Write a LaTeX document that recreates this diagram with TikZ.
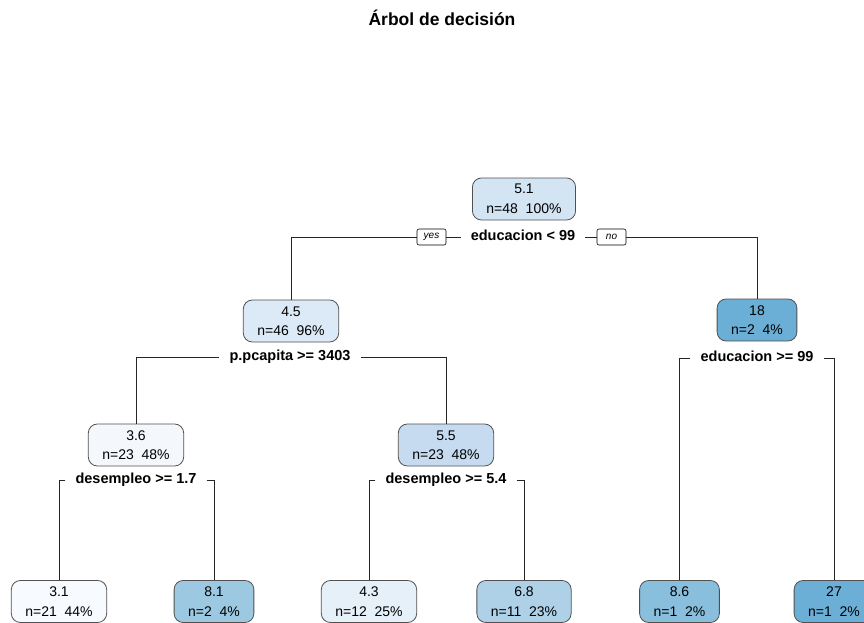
\documentclass[tikz,border=0pt]{standalone}
\usepackage{fontspec}
\setmainfont{Liberation Sans}
\usepackage{tikz}
\usetikzlibrary{positioning}

\definecolor{edgegray}{HTML}{505050}
\definecolor{c51}{HTML}{D3E4F3}
\definecolor{c45}{HTML}{DCE9F6}
\definecolor{c18}{HTML}{6BAED6}
\definecolor{c36}{HTML}{F4F8FD}
\definecolor{c55}{HTML}{C6DBEF}
\definecolor{c31}{HTML}{F7FBFF}
\definecolor{c81}{HTML}{9CC9E1}
\definecolor{c43}{HTML}{E6F0F9}
\definecolor{c68}{HTML}{AED1E7}
\definecolor{c86}{HTML}{89BEDC}
\definecolor{c27}{HTML}{6BAED6}

\begin{document}
\begin{tikzpicture}[
    x=1pt, y=-1pt,
    box/.style={draw=edgegray, line width=0.8pt, rounded corners=9pt, align=center,
        font=\fontsize{14}{19.5}\selectfont, minimum height=42pt, inner xsep=14pt, inner ysep=2pt},
    splitlab/.style={font=\fontsize{14.5}{16}\selectfont\bfseries, inner xsep=10pt, inner ysep=1pt,
        text height=10pt, text depth=3pt},
    yesno/.style={draw=black, line width=0.6pt, rounded corners=2pt, font=\fontsize{10}{12}\selectfont\itshape,
        minimum width=29pt, minimum height=16pt, inner sep=0pt},
    branch/.style={draw=black!85, line width=0.7pt}
]
\useasboundingbox (0,0) rectangle (864,623);

% Title
\node[font=\fontsize{17.5}{20}\selectfont\bfseries] (title) at (442,18) {Árbol de decisión};

% Nodes
\node[box, fill=c51] (root) at (524,199) {5.1\\n=48~~100\%};
\node[splitlab] (sroot) at (523,237) {educacion < 99};
\node[yesno] (yes) at (431.5,237) {yes};
\node[yesno] (no) at (611.5,237) {no};

\node[box, fill=c45] (n45) at (291,321) {4.5\\n=46~~96\%};
\node[splitlab] (s45) at (290,357) {p.pcapita >= 3403};

\node[box, fill=c18] (n18) at (757,320) {18\\n=2~~4\%};
\node[splitlab] (s18) at (757,358) {educacion >= 99};

\node[box, fill=c36] (n36) at (136,445) {3.6\\n=23~~48\%};
\node[splitlab] (s36) at (136,480) {desempleo >= 1.7};

\node[box, fill=c55] (n55) at (446,445) {5.5\\n=23~~48\%};
\node[splitlab] (s55) at (446,480) {desempleo >= 5.4};

% Leaves
\node[box, fill=c31] (l31) at (59,601.5) {3.1\\n=21~~44\%};
\node[box, fill=c81] (l81) at (214,601.5) {8.1\\n=2~~4\%};
\node[box, fill=c43] (l43) at (369,601.5) {4.3\\n=12~~25\%};
\node[box, fill=c68] (l68) at (524,601.5) {6.8\\n=11~~23\%};
\node[box, fill=c86] (l86) at (679.5,601.5) {8.6\\n=1~~2\%};
\node[box, fill=c27] (l27) at (834,601.5) {27\\n=1~~2\%};

% Branches
\draw[branch] (sroot.west) -- (yes.east);
\draw[branch] (yes.west) -| (n45.north);
\draw[branch] (sroot.east) -- (no.west);
\draw[branch] (no.east) -| (n18.north);

\draw[branch] (s45.west) -| (n36.north);
\draw[branch] (s45.east) -| (n55.north);

\draw[branch] (s18.west) -| (l86.north);
\draw[branch] (s18.east) -| (l27.north);

\draw[branch] (s36.west) -| (l31.north);
\draw[branch] (s36.east) -| (l81.north);

\draw[branch] (s55.west) -| (l43.north);
\draw[branch] (s55.east) -| (l68.north);

\end{tikzpicture}
\end{document}
